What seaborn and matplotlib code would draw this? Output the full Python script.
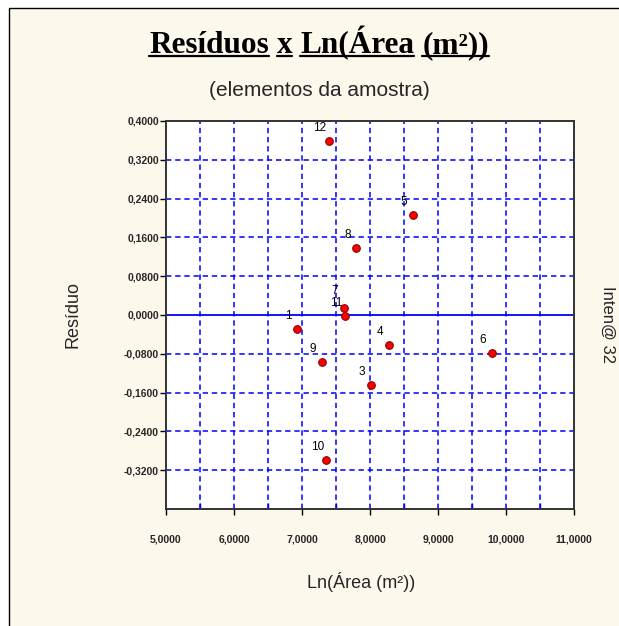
import matplotlib
matplotlib.use("Agg")
import matplotlib.pyplot as plt
import matplotlib.patches as mpatches
import matplotlib.lines as mlines
from matplotlib.ticker import FuncFormatter, MultipleLocator, FixedLocator
from matplotlib.font_manager import FontProperties
import numpy as np
import pandas as pd
import seaborn as sns

# ---- data ----
point_labels = ["1", "3", "4", "5", "6", "7", "8", "9", "10", "11", "12"]
ln_area = [6.93, 8.01, 8.28, 8.63, 9.79, 7.62, 7.80, 7.29, 7.36, 7.63, 7.39]
residuo = [-0.028, -0.144, -0.062, 0.206, -0.079, 0.014, 0.138, -0.096, -0.298, -0.002, 0.359]
x_ticks = [5, 6, 7, 8, 9, 10, 11]
y_ticks = [-0.32, -0.24, -0.16, -0.08, 0.0, 0.08, 0.16, 0.24, 0.32, 0.40]

title_words = ["Resíduos", "x", "Ln(Área", "(m²))"]
subtitle = "(elementos da amostra)"
x_label = "Ln(Área (m²))"
y_label = "Resíduo"
right_label = "Inten@ 32"

df = pd.DataFrame({"ln_area": ln_area, "residuo": residuo, "label": point_labels})

sns.set_style("white")
plt.rcParams["font.family"] = ["Liberation Sans", "DejaVu Sans"]

W, H = 619, 626
DPI = 100
BG = "#FDF8EC"
fig = plt.figure(figsize=(W / DPI, H / DPI), dpi=DPI, facecolor="white")

# cream panel with left/top border
panel = mpatches.Rectangle((9 / W, -0.01), 1.0, (H - 8) / H + 0.01, transform=fig.transFigure,
                           facecolor=BG, edgecolor="black", linewidth=1.0, zorder=-10)
fig.patches.append(panel)

L, R, T, B = 166, 574, 121, 509
ax = fig.add_axes([L / W, (H - B) / H, (R - L) / W, (B - T) / H])
ax.set_facecolor("white")

sns.scatterplot(data=df, x="ln_area", y="residuo", ax=ax, s=30, color="#FF0000",
                edgecolor="#8B0000", linewidth=0.8, zorder=5, legend=False)

for lx, ly, lb in zip(ln_area, residuo, point_labels):
    dy = 12.5 if lb == "7" else 9.3
    ax.annotate(lb, (lx, ly), xytext=(-6.5, dy), textcoords="offset points",
                ha="center", va="center", fontsize=8.5, color="black", zorder=6)

ax.set_xlim(5, 11)
ax.set_ylim(-0.4, 0.4)

blue = "#0000FF"
dash = (0, (3.5, 2.5))
for gx in np.arange(5.5, 11, 0.5):
    ax.axvline(gx, color=blue, lw=1.1, ls=dash, zorder=1)
for gy in y_ticks:
    if abs(gy) < 1e-9 or gy >= 0.39:
        continue
    ax.axhline(gy, color=blue, lw=1.1, ls=dash, zorder=1)
ax.axhline(0, color=blue, lw=1.3, zorder=2)

ax.xaxis.set_major_locator(FixedLocator(x_ticks))
ax.xaxis.set_minor_locator(MultipleLocator(0.5))
ax.yaxis.set_major_locator(FixedLocator(y_ticks))
fmt = FuncFormatter(lambda v, p: ("%.4f" % (0.0 if abs(v) < 1e-9 else v)).replace(".", ","))
ax.xaxis.set_major_formatter(fmt)
ax.yaxis.set_major_formatter(fmt)
ax.tick_params(axis="x", which="major", direction="out", length=4, width=1, color="black",
               labelsize=7.5, pad=14, bottom=True)
ax.tick_params(axis="x", which="minor", direction="in", length=4, width=1, color=blue, bottom=True)
ax.tick_params(axis="y", which="major", direction="out", length=4, width=1, color="black",
               labelsize=7.5, pad=1, left=True)
for lab in ax.get_xticklabels() + ax.get_yticklabels():
    lab.set_fontweight("bold")
for sp in ax.spines.values():
    sp.set_color("#333333")
    sp.set_linewidth(1.4)
ax.set_xlabel("")
ax.set_ylabel("")

# labels
fig.text(361 / W, 1 - 582 / H, x_label, ha="center", va="center", fontsize=13)
fig.text(73 / W, 1 - 315 / H, y_label, ha="center", va="center", fontsize=13, rotation=90)
fig.text(608 / W, 1 - 325 / H, right_label, ha="center", va="center", fontsize=12, rotation=-90,
         color="#222222")
fig.text(319 / W, 1 - 91 / H, subtitle, ha="center", va="center", fontsize=15)

# underlined title, word by word
fig.canvas.draw()
renderer = fig.canvas.get_renderer()
tprop = FontProperties(family=["Liberation Serif", "DejaVu Serif"], weight="bold", size=22.5)
sp_w = renderer.get_text_width_height_descent("x x", tprop, ismath=False)[0] - \
    2 * renderer.get_text_width_height_descent("x", tprop, ismath=False)[0]
widths = [renderer.get_text_width_height_descent(w_, tprop, ismath=False)[0] for w_ in title_words]
total = sum(widths) + sp_w * (len(title_words) - 1)
x0 = 319 - total / 2
base_y = H - 53
for w_, wd in zip(title_words, widths):
    fig.text(x0 / W, base_y / H, w_, fontproperties=tprop, ha="left", va="baseline", color="black")
    fig.add_artist(mlines.Line2D([x0 / W, (x0 + wd) / W], [(base_y - 3) / H, (base_y - 3) / H],
                                 transform=fig.transFigure, color="black", lw=1.6))
    x0 += wd + sp_w

fig.savefig("out.png", dpi=DPI, facecolor=fig.get_facecolor())
